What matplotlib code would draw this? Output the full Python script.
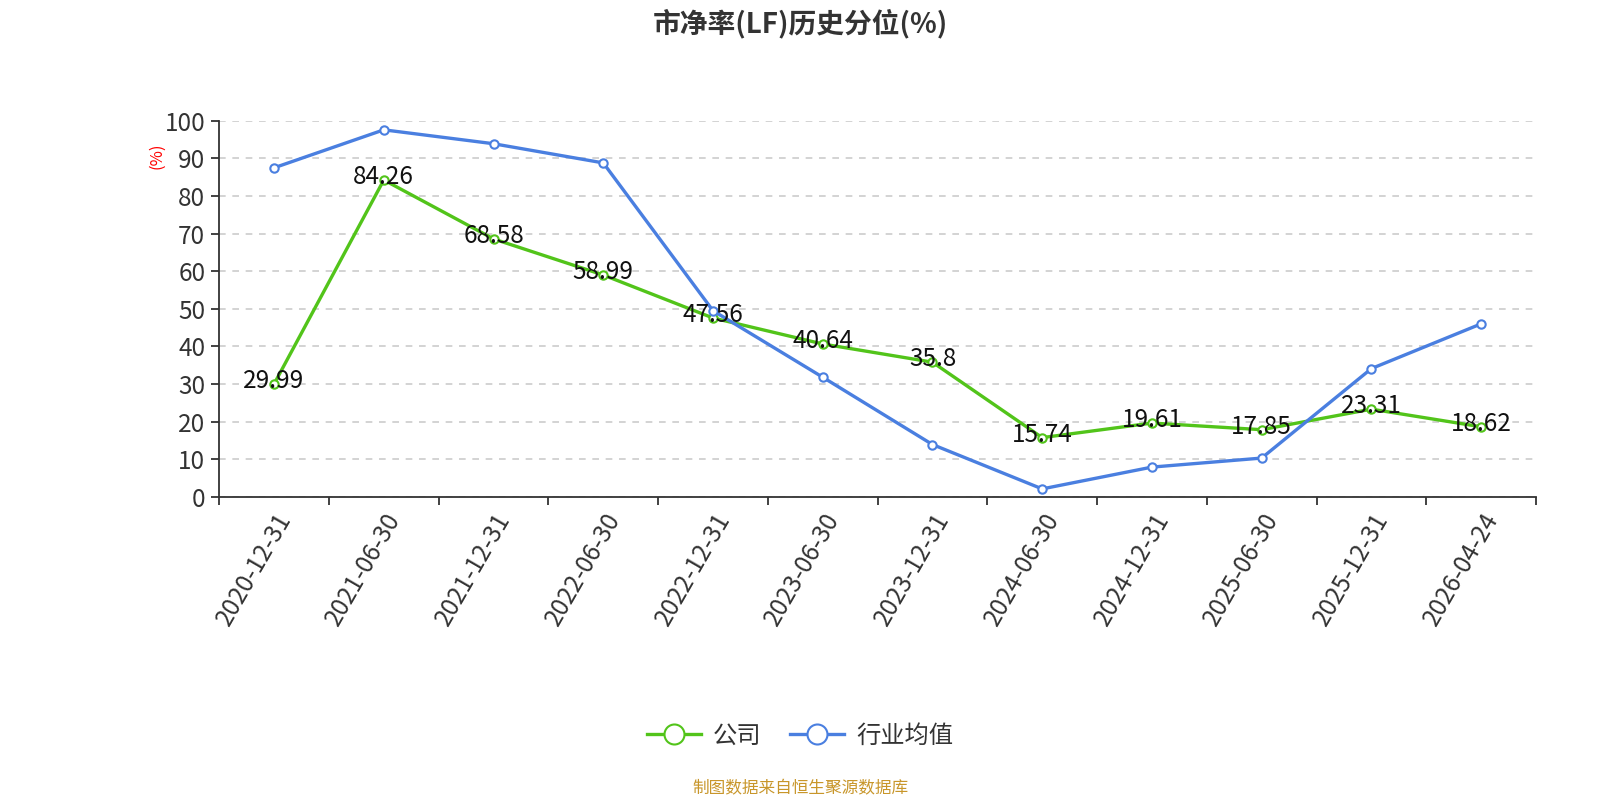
import numpy as np
import matplotlib.pyplot as plt

plt.rcParams['font.family'] = ['Noto Sans CJK SC', 'DejaVu Sans']

dates = ['2020-12-31', '2021-06-30', '2021-12-31', '2022-06-30', '2022-12-31', '2023-06-30',
         '2023-12-31', '2024-06-30', '2024-12-31', '2025-06-30', '2025-12-31', '2026-04-24']
company = [29.99, 84.26, 68.58, 58.99, 47.56, 40.64, 35.8, 15.74, 19.61, 17.85, 23.31, 18.62]
industry = [87.5, 97.6, 93.9, 88.8, 49.5, 31.8, 13.9, 2.1, 7.9, 10.3, 34.1, 46.0]

green = '#52c41a'
blue = '#4a7fe0'

fig = plt.figure(figsize=(16, 8), dpi=100)
ax = fig.add_axes([0.137, 0.379, 0.823, 0.470])

x = np.arange(len(dates))
ax.plot(x, company, color=green, lw=2.4, marker='o', ms=6, mfc='white', mec=green, mew=1.5,
        label='公司', zorder=3)
ax.plot(x, industry, color=blue, lw=2.4, marker='o', ms=6, mfc='white', mec=blue, mew=1.5,
        label='行业均值', zorder=3)

# data labels for the company series
for xi, v in zip(x, company):
    ax.text(xi, v + 0.8, f'{v:g}', ha='center', va='center', fontsize=17.5, color='#111111', zorder=4)

ax.set_xlim(-0.5, len(dates) - 0.5)
ax.set_ylim(0, 100)
ax.set_yticks(np.arange(0, 101, 10))
ax.set_xticks(np.arange(-0.5, len(dates), 1.0))
ax.set_xticklabels([])
ax.set_xticks(x, minor=True)
ax.set_xticklabels(dates, minor=True, rotation=60, ha='right', rotation_mode='anchor',
                   fontsize=17.5, color='#333333')
ax.tick_params(axis='x', which='minor', length=0, pad=8)
ax.tick_params(axis='x', which='major', length=6, color='#333333', width=1.3)
ax.tick_params(axis='y', length=6, color='#333333', width=1.3, labelsize=17.5, labelcolor='#333333', pad=4)

ax.grid(axis='y', linestyle=(0, (4, 4)), color='#cccccc', lw=1.2)
ax.set_axisbelow(True)
for s in ['top', 'right']:
    ax.spines[s].set_visible(False)
for s in ['left', 'bottom']:
    ax.spines[s].set_color('#333333')
    ax.spines[s].set_linewidth(1.3)

fig.text(0.098, 0.805, '(%)', rotation=90, color='red', fontsize=12, ha='center', va='center')
fig.text(0.5, 0.97, '市净率(LF)历史分位(%)', ha='center', va='center', fontsize=20,
         fontweight='bold', color='#333333')

leg = fig.legend(loc='center', bbox_to_anchor=(0.5, 0.08), ncol=2, frameon=False, fontsize=17.5,
                 handlelength=2.2, columnspacing=1.2, handletextpad=0.5, markerscale=2.4)
for t in leg.get_texts():
    t.set_color('#333333')

fig.text(0.5, 0.014, '制图数据来自恒生聚源数据库', ha='center', va='center', fontsize=12, color='#c8962a')

fig.savefig('out.png', dpi=100)
